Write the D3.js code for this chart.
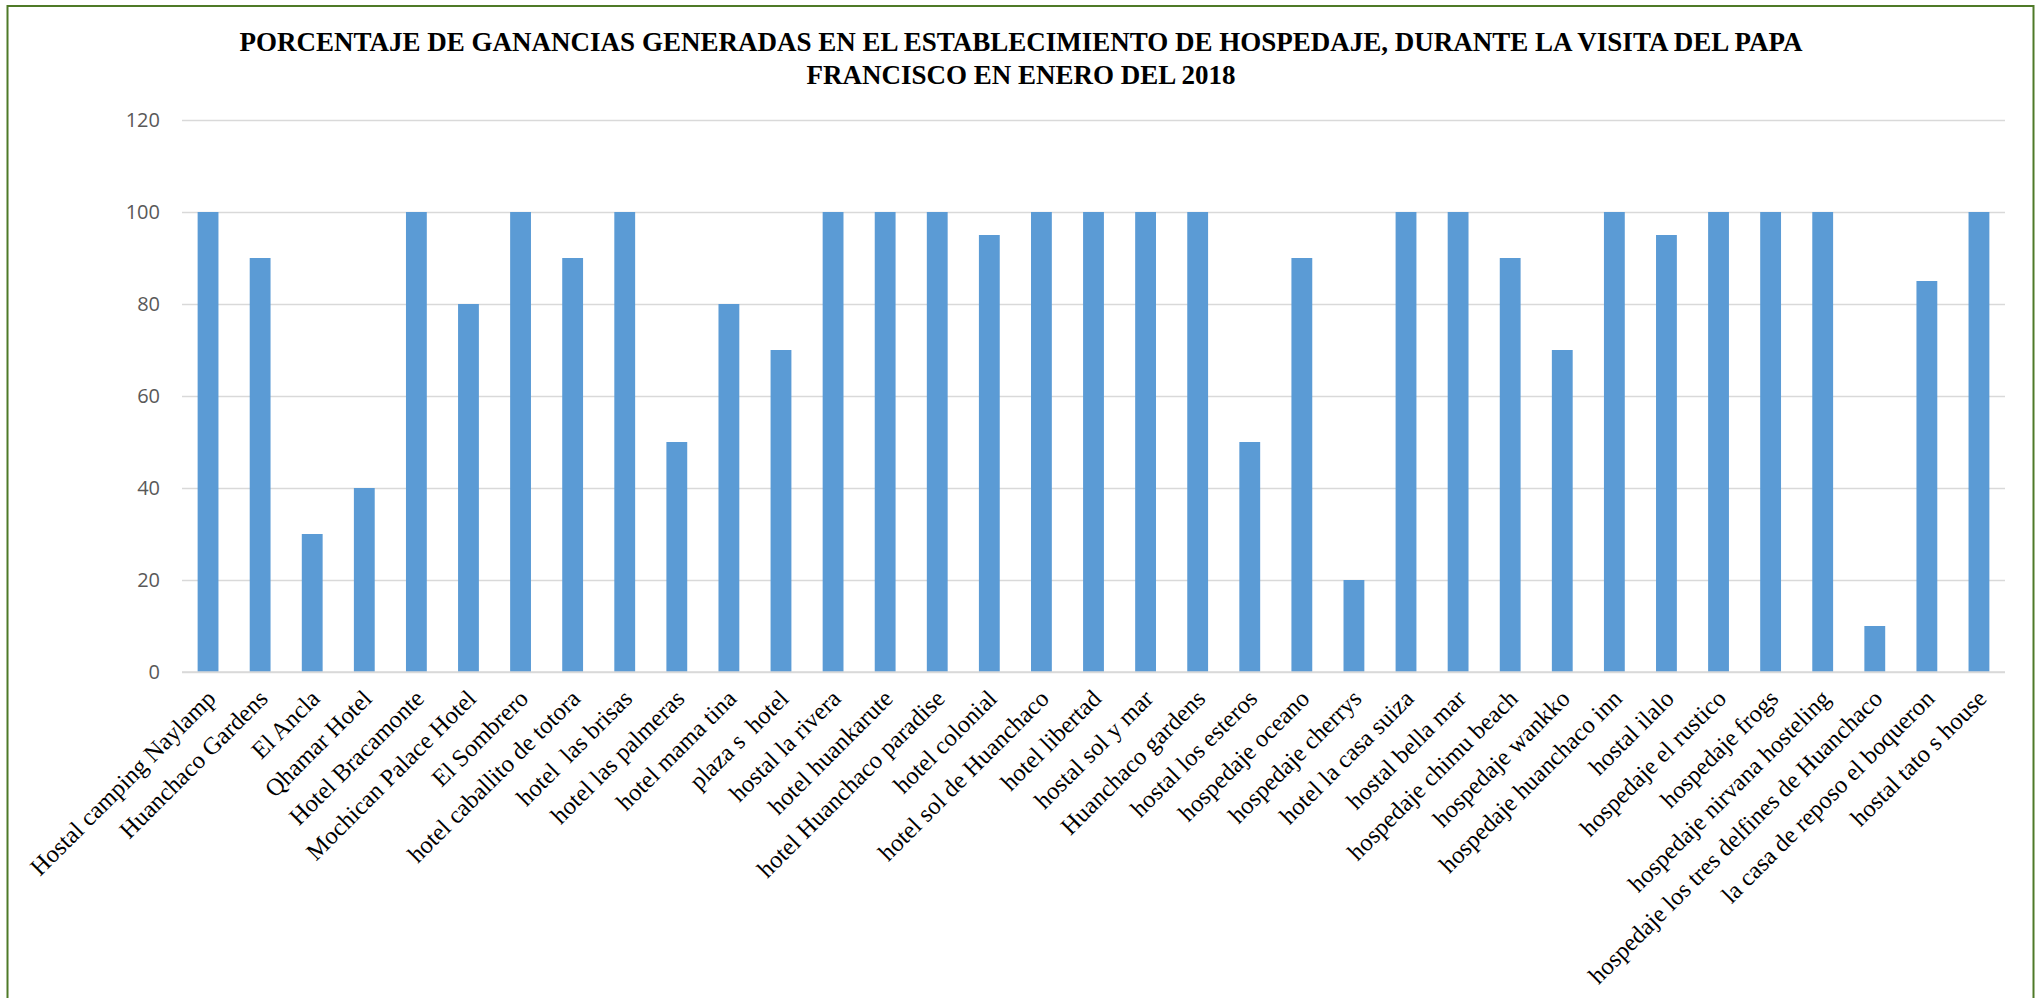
<!DOCTYPE html>
<html>
<head>
<meta charset="utf-8">
<script src="https://cdn.jsdelivr.net/npm/d3@7"></script>
<style>
  body { margin: 0; background: #fff; }
  svg text { white-space: pre; }
</style>
</head>
<body>
<div class="chart"></div>
<script>
const hoteles = ['Hostal camping Naylamp', 'Huanchaco Gardens', 'El Ancla', 'Qhamar Hotel', 'Hotel Bracamonte',
  'Mochican Palace Hotel', 'El Sombrero', 'hotel caballito de totora', 'hotel  las brisas', 'hotel las palmeras',
  'hotel mama tina', 'plaza s  hotel', 'hostal la rivera', 'hotel huankarute', 'hotel Huanchaco paradise',
  'hotel colonial', 'hotel sol de Huanchaco', 'hotel libertad', 'hostal sol y mar', 'Huanchaco gardens',
  'hostal los esteros', 'hospedaje oceano', 'hospedaje cherrys', 'hotel la casa suiza', 'hostal bella mar',
  'hospedaje chimu beach', 'hospedaje wankko', 'hospedaje huanchaco inn', 'hostal ilalo', 'hospedaje el rustico',
  'hospedaje frogs', 'hospedaje nirvana hosteling', 'hospedaje los tres delfines de Huanchaco',
  'la casa de reposo el boqueron', 'hostal tato s house'];
const porcentajes = [100, 90, 30, 40, 100, 80, 100, 90, 100, 50,
  80, 70, 100, 100, 100, 95, 100, 100, 100, 100,
  50, 90, 20, 100, 100, 90, 70, 100, 95, 100,
  100, 100, 10, 85, 100];
const yTicks = [0, 20, 40, 60, 80, 100, 120];
const titulo = ['PORCENTAJE DE GANANCIAS GENERADAS EN EL ESTABLECIMIENTO DE HOSPEDAJE, DURANTE LA VISITA DEL PAPA',
  'FRANCISCO EN ENERO DEL 2018'];

const w = 2040, h = 998;
const pLeft = 182, pRight = 2005, pTop = 120, pBottom = 672;

const svg = d3.select('div.chart')
  .append('svg')
  .attr('width', w)
  .attr('height', h);

// marco verde
svg.append('rect')
  .attr('x', 7.5).attr('y', 6)
  .attr('width', 2026).attr('height', 1000)
  .attr('fill', 'none')
  .attr('stroke', '#4f7a28')
  .attr('stroke-width', 2);

const xScale = d3.scaleBand()
  .domain(hoteles)
  .range([pLeft, pRight])
  .paddingInner(0.6)
  .paddingOuter(0.3);

const yScale = d3.scaleLinear()
  .domain([0, 120])
  .range([pBottom, pTop]);

// grid
const yAxis = d3.axisLeft(yScale)
  .tickValues(yTicks)
  .tickSize(-(pRight - pLeft))
  .tickPadding(22);

svg.append('g')
  .attr('transform', 'translate(' + pLeft + ',0)')
  .call(yAxis)
  .call(g => g.select('.domain').remove())
  .call(g => g.selectAll('line').attr('stroke', '#d9d9d9').attr('stroke-width', 1.5))
  .call(g => g.selectAll('text')
    .attr('fill', '#595959')
    .style('font-family', '"Open Sans", sans-serif')
    .style('font-size', '20px'));

svg.selectAll('rect.bar')
  .data(porcentajes)
  .enter()
  .append('rect')
  .attr('class', 'bar')
  .attr('fill', '#5b9bd5')
  .attr('x', (d, i) => xScale(hoteles[i]))
  .attr('width', xScale.bandwidth())
  .attr('y', d => yScale(d))
  .attr('height', d => pBottom - yScale(d));

// eje x
svg.append('line')
  .attr('x1', pLeft).attr('x2', pRight)
  .attr('y1', pBottom).attr('y2', pBottom)
  .attr('stroke', '#d9d9d9')
  .attr('stroke-width', 1.5);

const xAxis = d3.axisBottom(xScale).tickSize(0).tickPadding(0);
svg.append('g')
  .attr('transform', 'translate(0,' + pBottom + ')')
  .call(xAxis)
  .call(g => g.select('.domain').remove())
  .call(g => g.selectAll('text')
    .attr('fill', 'black')
    .attr('text-anchor', 'end')
    .attr('dy', '0.35em')
    .attr('transform', 'translate(3,22) rotate(-45)')
    .style('font-family', '"Liberation Serif", "Times New Roman", serif')
    .style('font-size', '24.5px'));

svg.selectAll('text.titulo')
  .data(titulo)
  .enter()
  .append('text')
  .attr('class', 'titulo')
  .text(d => d)
  .attr('x', 1021)
  .attr('y', (d, i) => 51 + i * 33)
  .attr('text-anchor', 'middle')
  .attr('fill', 'black')
  .style('font-family', '"Liberation Serif", "Times New Roman", serif')
  .style('font-weight', 'bold')
  .style('font-size', '27px');
</script>
</body>
</html>
